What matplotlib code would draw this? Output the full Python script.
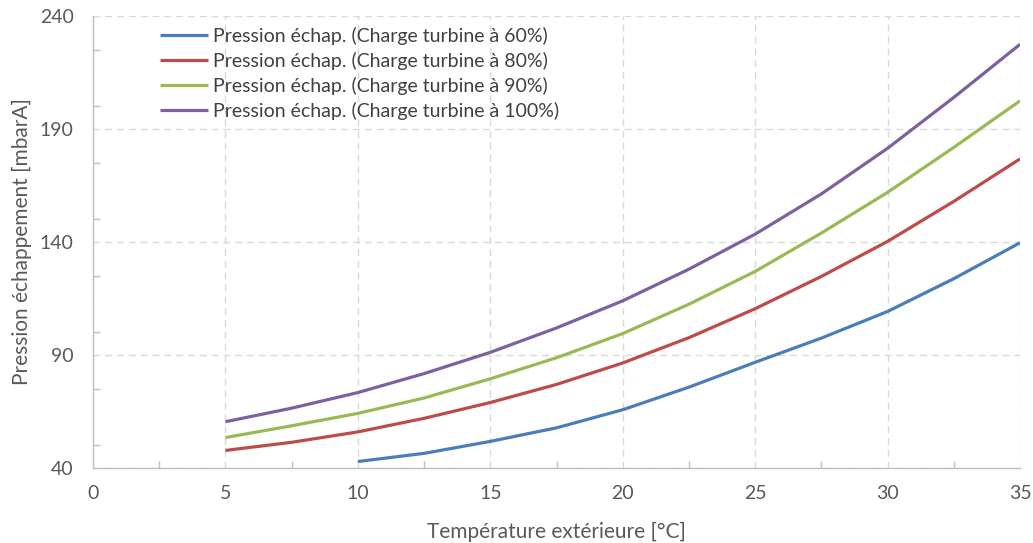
import matplotlib
matplotlib.use("Agg")
import matplotlib.pyplot as plt
from matplotlib.ticker import MultipleLocator

plt.rcParams['font.family'] = ['Lato', 'DejaVu Sans']

temps = [5, 7.5, 10, 12.5, 15, 17.5, 20, 22.5, 25, 27.5, 30, 32.5, 35]
temps_60 = [10, 12.5, 15, 17.5, 20, 22.5, 25, 27.5, 30, 32.5, 35]

p60 = [42.9, 46.5, 51.8, 57.8, 65.8, 75.8, 86.8, 97.5, 109.3, 123.8, 139.7]
p80 = [47.8, 51.4, 56.0, 62.0, 69.0, 77.0, 86.5, 97.7, 110.5, 124.8, 140.3, 158.0, 176.8]
p90 = [53.5, 58.7, 64.2, 71.0, 79.5, 88.8, 99.5, 112.5, 127.0, 144.0, 162.0, 181.9, 202.5]
p100 = [60.5, 66.5, 73.4, 81.8, 91.2, 102.0, 114.0, 128.0, 143.5, 161.3, 181.5, 204.0, 227.5]

labels = ["Pression échap. (Charge turbine à 60%)",
          "Pression échap. (Charge turbine à 80%)",
          "Pression échap. (Charge turbine à 90%)",
          "Pression échap. (Charge turbine à 100%)"]
colors = ["#4A7EBB", "#BE4B48", "#98B954", "#7D60A0"]

xticks = [0, 5, 10, 15, 20, 25, 30, 35]
yticks = [40, 90, 140, 190, 240]

fig = plt.figure(figsize=(10.33, 5.43), dpi=100)
ax = fig.add_axes([0.090, 0.138, 0.8975, 0.8325])

series = [(temps_60, p60), (temps, p80), (temps, p90), (temps, p100)]
for (xs, ys), lab, col in zip(series, labels, colors):
    ax.plot(xs, ys, color=col, lw=2.3, label=lab, solid_capstyle='butt')

ax.set_xlim(0, 35)
ax.set_ylim(40, 240)
ax.set_xticks(xticks)
ax.set_yticks(yticks)
ax.xaxis.set_minor_locator(MultipleLocator(2.5))
ax.yaxis.set_minor_locator(MultipleLocator(25))

grid_col = "#D9D9D9"
ax.grid(True, which='major', color=grid_col, lw=1.0, linestyle=(0, (5, 3.5)))
ax.set_axisbelow(True)

for s in ['top', 'right']:
    ax.spines[s].set_visible(False)
for s in ['left', 'bottom']:
    ax.spines[s].set_color("#BFBFBF")
    ax.spines[s].set_linewidth(1.0)

txt_col = "#595959"
ax.tick_params(axis='both', which='major', length=0, labelsize=14, labelcolor=txt_col)
ax.tick_params(axis='x', which='major', pad=12)
ax.tick_params(axis='y', which='major', pad=14)
ax.tick_params(axis='both', which='minor', direction='in', length=5, color="#BFBFBF", width=1.0)

ax.set_xlabel("Température extérieure [°C]", fontsize=15, color=txt_col)
ax.set_ylabel("Pression échappement [mbarA]", fontsize=15, color=txt_col)
ax.xaxis.set_label_coords(0.5, -0.142)
ax.xaxis.label.set_va('center')
ax.yaxis.set_label_coords(-0.0766, 0.5)
ax.yaxis.label.set_va('center')

leg = ax.legend(loc='upper left', bbox_to_anchor=(0.0723, 0.976), frameon=False,
                fontsize=14, handlelength=2.47, handletextpad=0.26, labelspacing=0.36,
                borderaxespad=0, borderpad=0)
for t in leg.get_texts():
    t.set_color("#404040")

fig.savefig("out.png", dpi=100)
